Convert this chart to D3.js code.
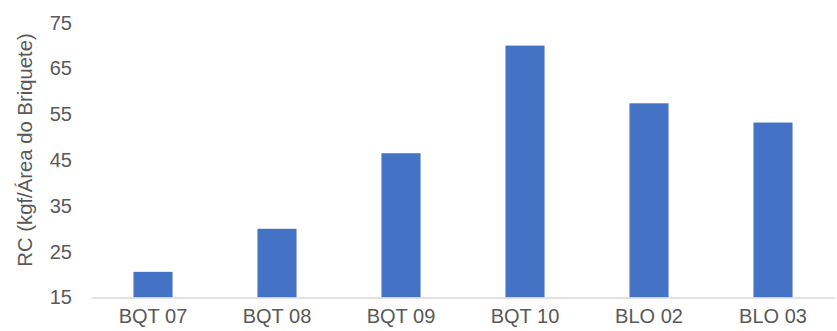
<!DOCTYPE html>
<html>
<head>
<meta charset="utf-8">
<script src="https://cdn.jsdelivr.net/npm/d3@7"></script>
<style>
  html, body { margin: 0; padding: 0; background: #fff; }
  svg { display: block; font-family: "Liberation Sans", Arial, sans-serif; }
</style>
</head>
<body>
<div id="chart"></div>
<script>
// data
const categories = ['BQT 07', 'BQT 08', 'BQT 09', 'BQT 10', 'BLO 02', 'BLO 03'];
const rcValues = [20.6, 30.0, 46.5, 70.0, 57.4, 53.2];
const yTicks = [15, 25, 35, 45, 55, 65, 75];
const yTitle = 'RC (kgf/Área do Briquete)';

const width = 837, height = 331;
const margin = { top: 22.7, right: 2, bottom: 33.5, left: 91 };
const innerW = width - margin.left - margin.right;
const innerH = height - margin.top - margin.bottom;

const svg = d3.select('#chart')
  .append('svg')
  .attr('width', width)
  .attr('height', height);

const g = svg.append('g')
  .attr('transform', 'translate(' + margin.left + ',' + margin.top + ')');

const x = d3.scaleBand().domain(categories).range([0, innerW]).padding(0);
const y = d3.scaleLinear().domain([15, 75]).range([innerH, 0]);

const barW = x.bandwidth() * 0.315;

// bars
g.selectAll('rect.bar')
  .data(categories)
  .enter()
  .append('rect')
  .attr('class', 'bar')
  .attr('x', (d) => x(d) + (x.bandwidth() - barW) / 2)
  .attr('y', (d, i) => y(rcValues[i]))
  .attr('width', barW)
  .attr('height', (d, i) => y(15) - y(rcValues[i]))
  .attr('fill', '#4472c4');

// y axis (labels only)
const yAxis = g.append('g')
  .call(d3.axisLeft(y).tickValues(yTicks).tickSize(0).tickPadding(19));
yAxis.select('.domain').remove();
yAxis.selectAll('text')
  .attr('fill', '#595959')
  .style('font-size', '20px');

// x axis
const xAxis = g.append('g')
  .attr('transform', 'translate(0,' + innerH + ')')
  .call(d3.axisBottom(x).tickSize(0).tickPadding(11));
xAxis.select('.domain').attr('stroke', '#d9d9d9').attr('stroke-width', 1.3);
xAxis.selectAll('text')
  .attr('fill', '#595959')
  .style('font-size', '20px');

// y axis title
svg.append('text')
  .attr('transform', 'translate(32,150) rotate(-90)')
  .attr('text-anchor', 'middle')
  .attr('fill', '#595959')
  .style('font-size', '20.3px')
  .text(yTitle);
</script>
</body>
</html>
